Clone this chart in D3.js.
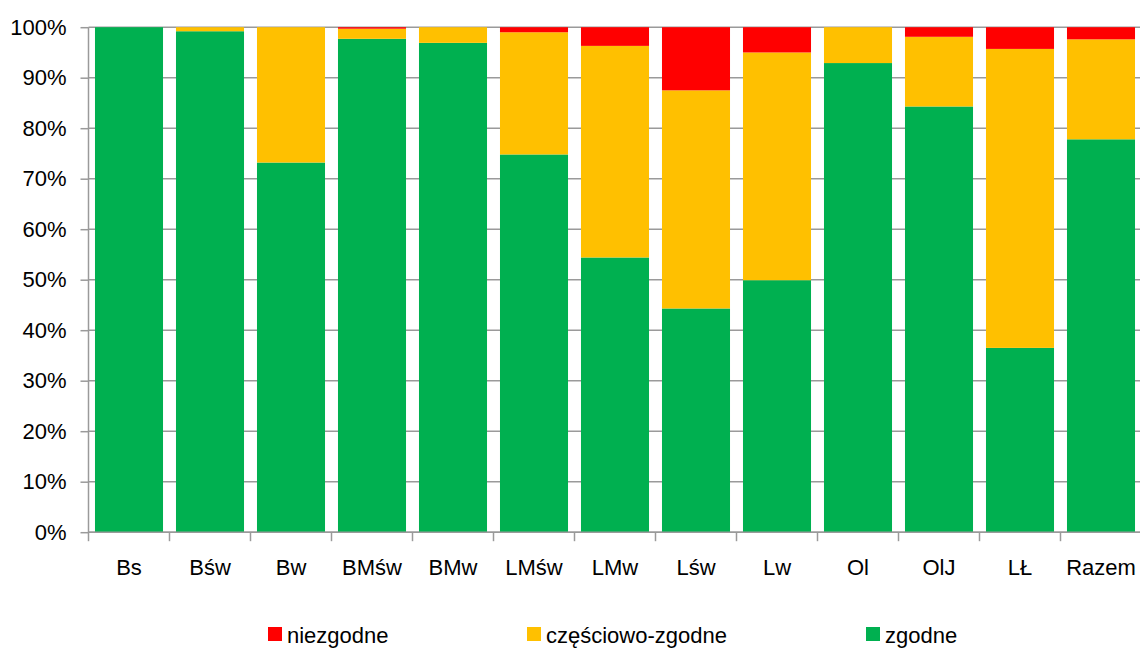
<!DOCTYPE html>
<html>
<head>
<meta charset="utf-8">
<script src="https://cdn.jsdelivr.net/npm/d3@7"></script>
<style>
  html, body { margin: 0; padding: 0; background: #fff; }
  svg { display: block; font-family: "Liberation Sans", Arial, sans-serif; }
</style>
</head>
<body>
<svg id="chart" width="1140" height="648"></svg>
<script>
// Categories and percentage shares of each assessment class
const categories = ["Bs", "Bśw", "Bw", "BMśw", "BMw", "LMśw", "LMw", "Lśw", "Lw", "Ol", "OlJ", "LŁ", "Razem"];
const zgodne      = [100, 99.2, 73.2, 97.7, 96.9, 74.8, 54.4, 44.3, 49.9, 92.9, 84.3, 36.5, 77.8];
const czesciowo   = [0,   0.8,  26.8, 2.0,  3.1,  24.2, 41.9, 43.2, 45.1, 7.1,  13.8, 59.2, 19.8];
const niezgodne   = [0,   0,    0,    0.3,  0,    1.0,  3.7,  12.5, 5.0,  0,    1.9,  4.3,  2.4];
const seriesNames = ["zgodne", "częściowo-zgodne", "niezgodne"];
const yTicks      = [0, 10, 20, 30, 40, 50, 60, 70, 80, 90, 100];

const colors = {"zgodne": "#00B050", "częściowo-zgodne": "#FFC000", "niezgodne": "#FF0000"};
const fontSize = 22;

const svg = d3.select("#chart");
const margin = {left: 88.5, top: 27.2, bottom: 532.2};
const plotRight = 1141.5;

const rows = categories.map((c, i) => ({
  cat: c,
  "zgodne": zgodne[i],
  "częściowo-zgodne": czesciowo[i],
  "niezgodne": niezgodne[i]
}));

const stacked = d3.stack().keys(seriesNames)(rows);

const x = d3.scaleBand().domain(categories).range([margin.left, plotRight])
  .paddingInner(0.16).paddingOuter(0.08);
const y = d3.scaleLinear().domain([0, 100]).range([margin.bottom, margin.top]);

// horizontal gridlines
svg.append("g").selectAll("line").data(yTicks).join("line")
  .attr("x1", margin.left).attr("x2", plotRight)
  .attr("y1", d => y(d)).attr("y2", d => y(d))
  .attr("stroke", "#9a9a9a").attr("stroke-width", 1.5);

// stacked bars
svg.append("g").selectAll("g").data(stacked).join("g")
  .attr("fill", d => colors[d.key])
  .selectAll("rect").data(d => d).join("rect")
  .attr("x", d => x(d.data.cat))
  .attr("width", x.bandwidth())
  .attr("y", d => y(d[1]))
  .attr("height", d => Math.max(0, y(d[0]) - y(d[1])));

// y axis
const yAxis = d3.axisLeft(y).tickValues(yTicks).tickFormat(d => d + "%").tickSize(8).tickPadding(14);
const gy = svg.append("g").attr("transform", `translate(${margin.left},0)`).call(yAxis);
gy.select(".domain").attr("stroke", "#9a9a9a").attr("stroke-width", 1.5).attr("d", `M0,${y(100)}V${y(0)}`);
gy.selectAll(".tick line").attr("stroke", "#9a9a9a").attr("stroke-width", 1.5);
gy.selectAll(".tick text").attr("font-size", fontSize).attr("fill", "#000")
  .attr("font-family", "'Liberation Sans', Arial, sans-serif");

// x axis: baseline plus ticks at band boundaries
const gx = svg.append("g");
gx.append("line").attr("x1", margin.left).attr("x2", plotRight)
  .attr("y1", y(0)).attr("y2", y(0)).attr("stroke", "#9a9a9a").attr("stroke-width", 1.5);
const bounds = categories.map(c => x(c) - x.step() * x.paddingInner() / 2).concat([plotRight]);
gx.selectAll("line.tk").data(bounds).join("line").attr("class", "tk")
  .attr("x1", d => d).attr("x2", d => d)
  .attr("y1", y(0)).attr("y2", y(0) + 9)
  .attr("stroke", "#9a9a9a").attr("stroke-width", 1.5);
gx.selectAll("text").data(categories).join("text")
  .attr("x", d => x(d) + x.bandwidth() / 2)
  .attr("y", 575)
  .attr("text-anchor", "middle")
  .attr("font-size", fontSize)
  .attr("fill", "#000")
  .text(d => d);

// legend
const legendItems = [
  {name: "niezgodne", x: 268},
  {name: "częściowo-zgodne", x: 527},
  {name: "zgodne", x: 866}
];
const lg = svg.append("g").selectAll("g").data(legendItems).join("g")
  .attr("transform", d => `translate(${d.x},627)`);
lg.append("rect").attr("width", 14).attr("height", 14).attr("fill", d => colors[d.name]);
lg.append("text").attr("x", 19).attr("y", 16).attr("font-size", fontSize).attr("fill", "#000").text(d => d.name);
</script>
</body>
</html>
